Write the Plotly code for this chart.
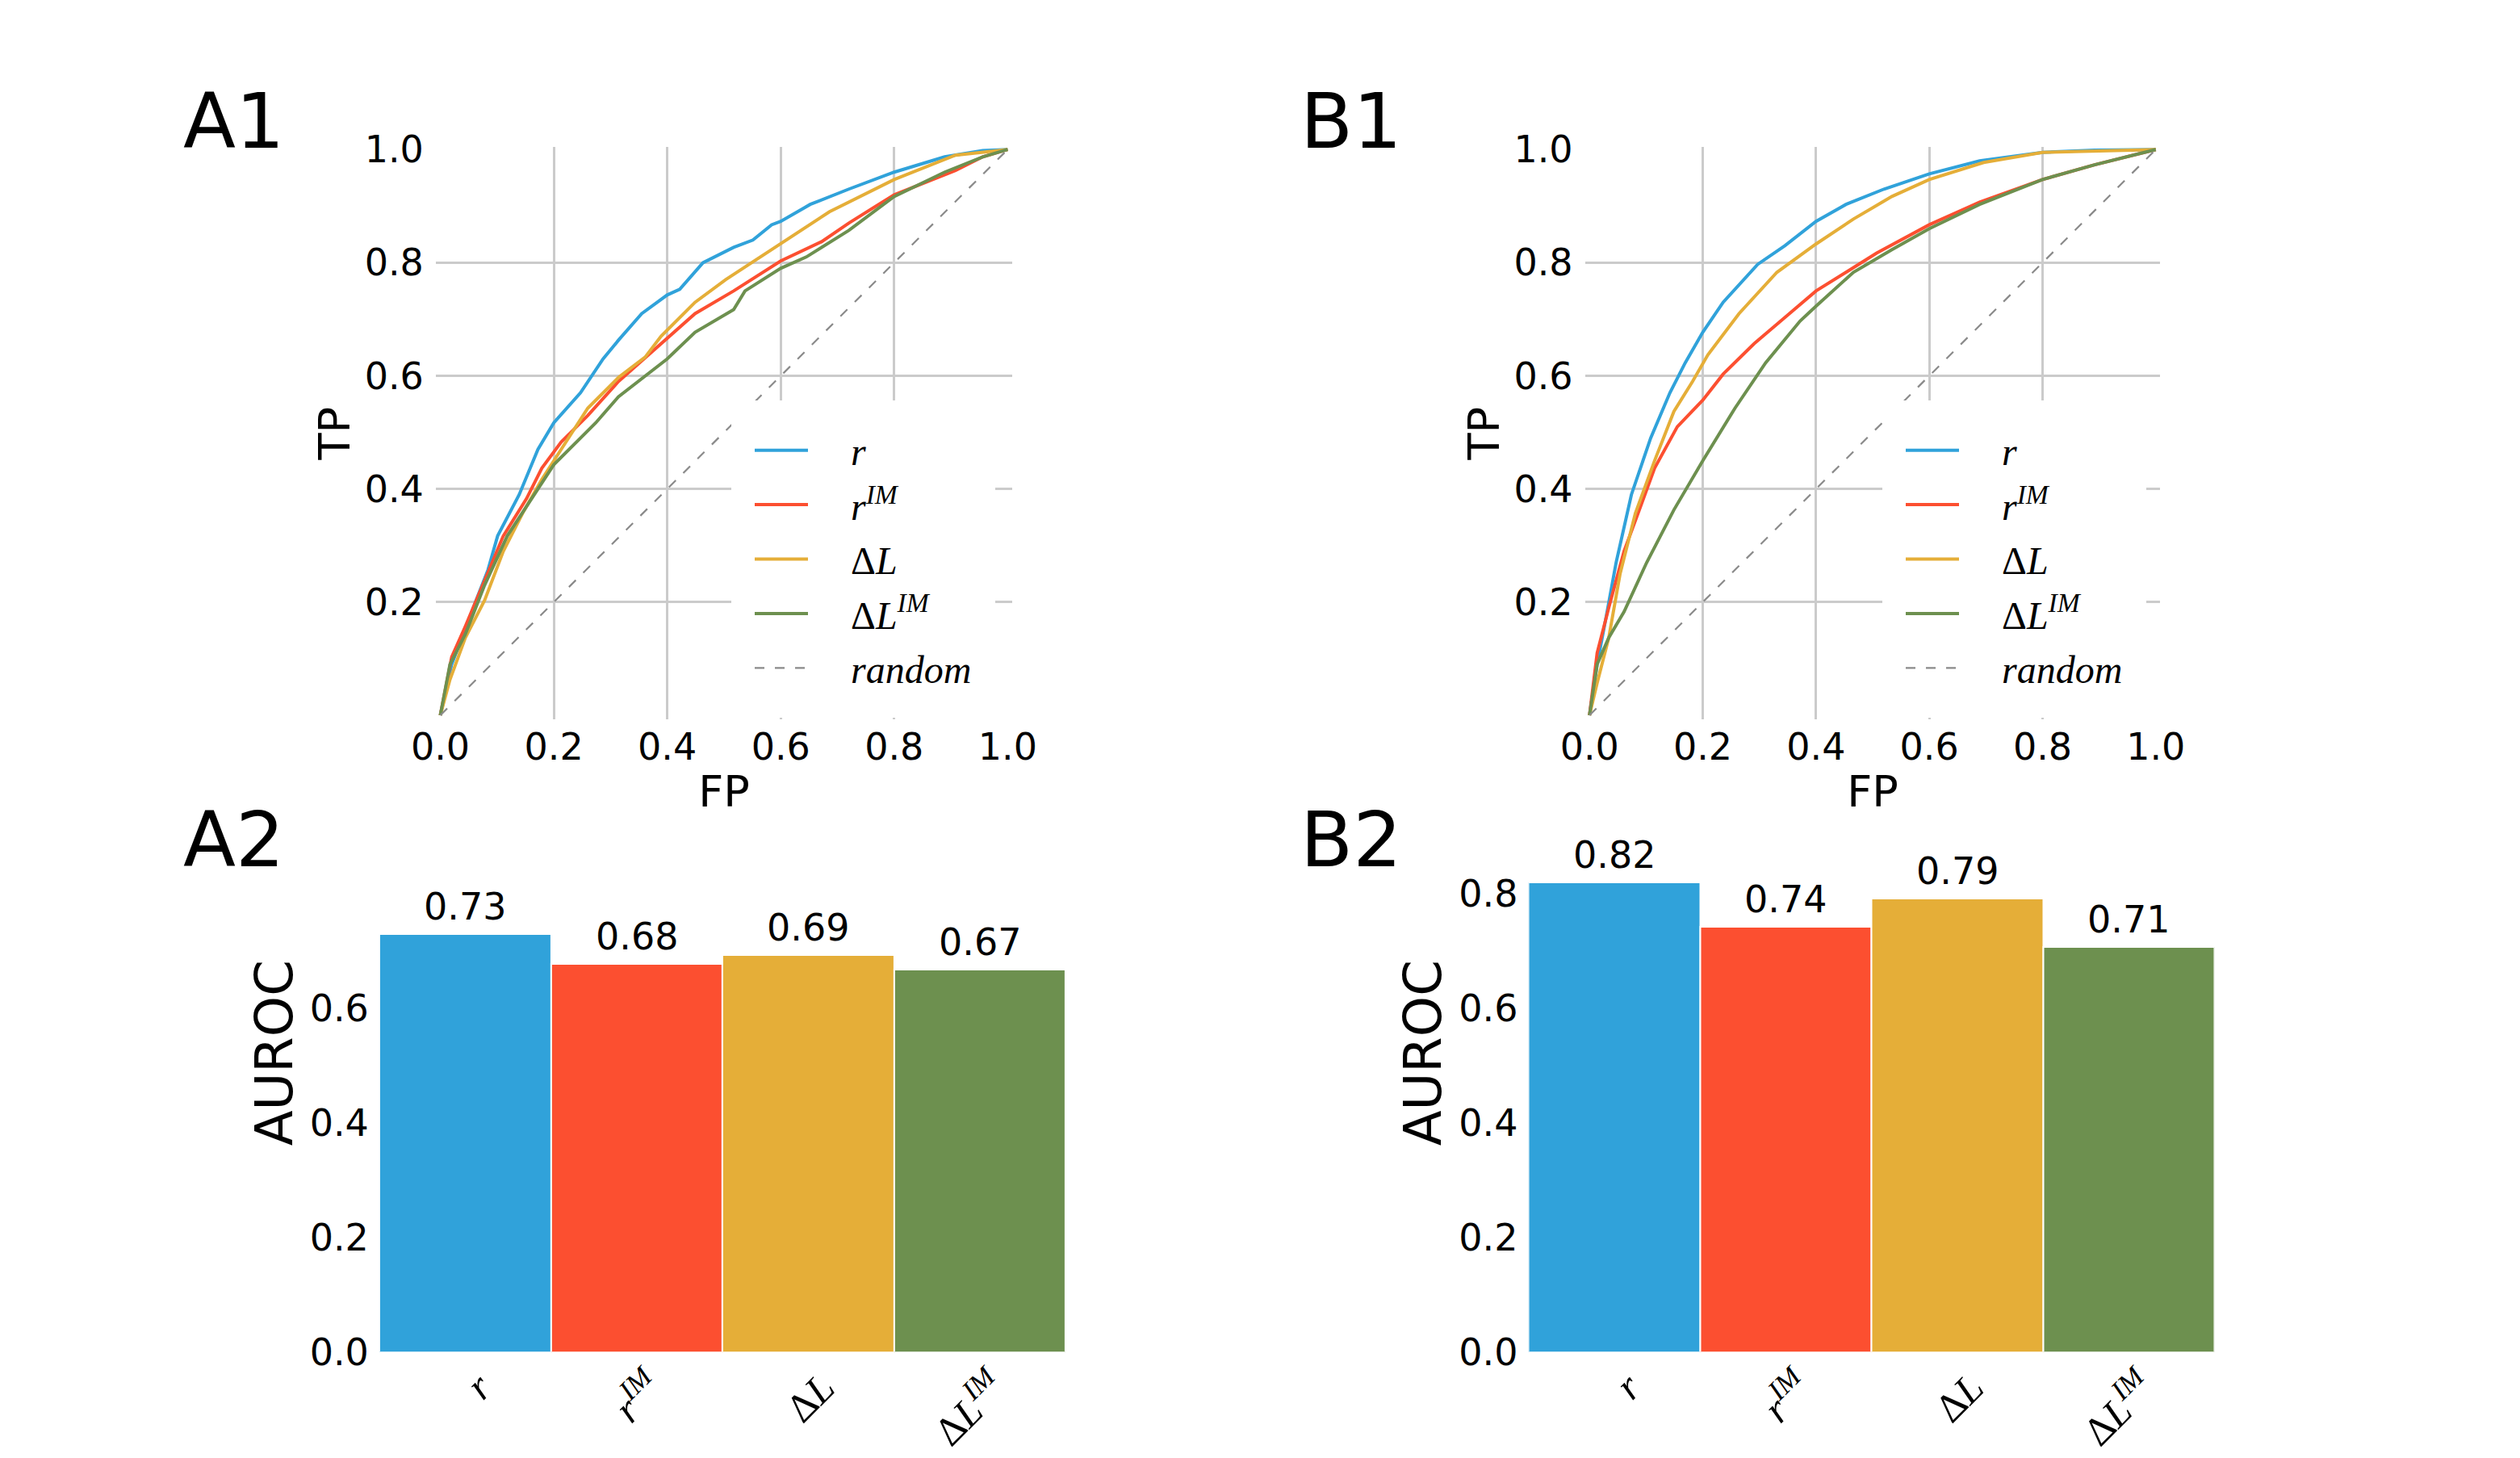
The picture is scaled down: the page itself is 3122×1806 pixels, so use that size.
import plotly.graph_objects as go

W, H = 3122, 1806

# ---------------- data ----------------
# Panel A1 ROC curves
a1_r_fp = [0, 0.02, 0.063, 0.084, 0.101, 0.139, 0.172, 0.2, 0.247, 0.287, 0.314, 0.355, 0.4, 0.422, 0.463,
           0.517, 0.551, 0.584, 0.6, 0.652, 0.72, 0.8, 0.889, 0.956, 1.0]
a1_r_tp = [0, 0.09, 0.203, 0.257, 0.317, 0.39, 0.47, 0.517, 0.57, 0.63, 0.663, 0.71, 0.743, 0.753, 0.8,
           0.827, 0.84, 0.867, 0.873, 0.903, 0.93, 0.96, 0.987, 0.998, 1.0]
a1_rim_fp = [0, 0.02, 0.044, 0.078, 0.111, 0.152, 0.179, 0.213, 0.26, 0.314, 0.382, 0.449, 0.517, 0.6,
             0.672, 0.72, 0.8, 0.908, 0.956, 1.0]
a1_rim_tp = [0, 0.103, 0.157, 0.237, 0.317, 0.383, 0.437, 0.483, 0.53, 0.59, 0.65, 0.71, 0.75, 0.803,
             0.837, 0.87, 0.92, 0.963, 0.987, 1.0]
a1_dl_fp = [0, 0.017, 0.044, 0.078, 0.111, 0.145, 0.179, 0.213, 0.26, 0.314, 0.361, 0.389, 0.449, 0.503,
            0.6, 0.686, 0.8, 0.908, 1.0]
a1_dl_tp = [0, 0.063, 0.137, 0.203, 0.29, 0.357, 0.417, 0.47, 0.543, 0.597, 0.633, 0.67, 0.73, 0.77,
            0.833, 0.89, 0.947, 0.99, 1.0]
a1_dlim_fp = [0, 0.017, 0.044, 0.078, 0.118, 0.152, 0.2, 0.247, 0.274, 0.314, 0.4, 0.449, 0.517, 0.537,
              0.6, 0.645, 0.72, 0.8, 0.889, 0.956, 1.0]
a1_dlim_tp = [0, 0.09, 0.143, 0.23, 0.317, 0.37, 0.443, 0.49, 0.517, 0.563, 0.63, 0.677, 0.717, 0.75,
              0.79, 0.81, 0.857, 0.917, 0.96, 0.987, 1.0]

# Panel B1 ROC curves
b1_r_fp = [0, 0.0135, 0.03, 0.047, 0.074, 0.108, 0.142, 0.169, 0.2, 0.236, 0.297, 0.345, 0.4, 0.453,
           0.52, 0.6, 0.689, 0.8, 0.892, 1.0]
b1_r_tp = [0, 0.09, 0.177, 0.27, 0.39, 0.49, 0.57, 0.623, 0.677, 0.73, 0.797, 0.83, 0.873, 0.903,
           0.93, 0.957, 0.98, 0.995, 0.999, 1.0]
b1_rim_fp = [0, 0.0135, 0.034, 0.061, 0.088, 0.115, 0.155, 0.2, 0.236, 0.291, 0.345, 0.4, 0.453, 0.507,
             0.6, 0.689, 0.8, 0.892, 1.0]
b1_rim_tp = [0, 0.11, 0.19, 0.29, 0.363, 0.437, 0.51, 0.557, 0.603, 0.657, 0.703, 0.75, 0.783, 0.817,
             0.867, 0.907, 0.947, 0.973, 1.0]
b1_dl_fp = [0, 0.0135, 0.034, 0.054, 0.081, 0.115, 0.149, 0.182, 0.209, 0.264, 0.331, 0.4, 0.466, 0.534,
            0.6, 0.696, 0.8, 1.0]
b1_dl_tp = [0, 0.057, 0.137, 0.25, 0.357, 0.45, 0.537, 0.59, 0.637, 0.71, 0.783, 0.833, 0.877, 0.917,
            0.947, 0.977, 0.995, 1.0]
b1_dlim_fp = [0, 0.0135, 0.034, 0.061, 0.101, 0.149, 0.2, 0.257, 0.311, 0.372, 0.4, 0.466, 0.534, 0.6,
              0.689, 0.8, 0.892, 1.0]
b1_dlim_tp = [0, 0.09, 0.137, 0.183, 0.27, 0.363, 0.45, 0.543, 0.623, 0.697, 0.723, 0.783, 0.823, 0.86,
              0.903, 0.947, 0.973, 1.0]

random_fp = [0, 1]
random_tp = [0, 1]

# Bars (AUROC)
bar_keys = ["r", "rIM", "dL", "dLIM"]
bar_labels = ["<i>r</i>", "<i>r</i><sup><i>IM</i></sup>", "Δ<i>L</i>", "Δ<i>L</i><sup><i>IM</i></sup>"]
legend_labels = ["&nbsp;&nbsp;&nbsp;&nbsp;" + s for s in bar_labels]
random_label = "&nbsp;&nbsp;&nbsp;&nbsp;<i>random</i>"
auroc_a = [0.729, 0.677, 0.692, 0.667]
auroc_b = [0.819, 0.741, 0.791, 0.707]

colors = ["#30a2da", "#fc4f30", "#e5ae38", "#6d904f"]
roc_ticks = [0.0, 0.2, 0.4, 0.6, 0.8, 1.0]
grid_ticks = [0.2, 0.4, 0.6, 0.8]

# ---------------- helpers for layout (pixel -> paper) ----------------
def fx(p):
    return p / W

def fy(p):
    return 1 - p / H

SANS = "DejaVu Sans"
SERIF = "Liberation Serif"
GRID = "#cbcbcb"

fig = go.Figure()

roc_sets = [
    ("x", "y", "legend", [(a1_r_fp, a1_r_tp), (a1_rim_fp, a1_rim_tp), (a1_dl_fp, a1_dl_tp), (a1_dlim_fp, a1_dlim_tp)]),
    ("x2", "y2", "legend2", [(b1_r_fp, b1_r_tp), (b1_rim_fp, b1_rim_tp), (b1_dl_fp, b1_dl_tp), (b1_dlim_fp, b1_dlim_tp)]),
]
for xa, ya, leg, curves in roc_sets:
    for i, (fp, tp) in enumerate(curves):
        fig.add_trace(go.Scatter(
            x=fp, y=tp, mode="lines", name=legend_labels[i], xaxis=xa, yaxis=ya,
            line=dict(color=colors[i], width=4), legend=leg, legendgroup=leg + str(i),
            hoverinfo="skip"))
    fig.add_trace(go.Scatter(
        x=random_fp, y=random_tp, mode="lines", name=random_label, xaxis=xa, yaxis=ya,
        line=dict(color="#8a8a8a", width=2.2, dash="12px,13px"), legend=leg, legendgroup=leg + "rand",
        hoverinfo="skip"))

for xa, ya, vals in [("x3", "y3", auroc_a), ("x4", "y4", auroc_b)]:
    fig.add_trace(go.Bar(
        x=bar_keys, y=vals, xaxis=xa, yaxis=ya, showlegend=False,
        marker=dict(color=colors, line=dict(color="white", width=2)), hoverinfo="skip"))

# ---------------- axes ----------------
roc_x_common = dict(range=[-0.008, 1.008], tickvals=roc_ticks, ticktext=["%.1f" % v for v in roc_ticks],
                    showgrid=False, zeroline=False, showline=False, ticks="", automargin=False,
                    minor=dict(tickvals=grid_ticks, showgrid=True, gridcolor=GRID, gridwidth=2.5, ticks=""),
                    tickfont=dict(family=SANS, size=46, color="black"), ticklabelstandoff=3,
                    title=dict(text="FP", font=dict(family=SANS, size=54, color="black"), standoff=10))
roc_y_common = dict(range=[-0.007, 1.004], tickvals=roc_ticks[1:], ticktext=["%.1f" % v for v in roc_ticks[1:]],
                    showgrid=False, zeroline=False, showline=False, ticks="", automargin=False,
                    minor=dict(tickvals=grid_ticks, showgrid=True, gridcolor=GRID, gridwidth=2.5, ticks=""),
                    tickfont=dict(family=SANS, size=46, color="black"), ticklabelstandoff=14,
                    title=dict(text="TP", font=dict(family=SANS, size=54, color="black"), standoff=0))

roc_y_dom = [fy(890.9), fy(182.4)]
bar_y_dom = [fy(1674.5), fy(934.0)]
bar_range = [0, (1674.5 - 934.0) / 710.0]

bar_x_common = dict(range=[-0.5, 3.5], tickvals=bar_keys, ticktext=bar_labels, tickangle=-45,
                    ticklabelstandoff=4, ticklabelshift=18,
                    tickfont=dict(family=SERIF, size=50, color="black"),
                    showgrid=False, zeroline=False, showline=False, ticks="", type="category", automargin=False)
def bar_y(top_tick):
    ticks = [0.0, 0.2, 0.4, 0.6, 0.8][:top_tick + 1]
    return dict(range=bar_range, domain=bar_y_dom, tickvals=ticks, ticktext=["%.1f" % v for v in ticks],
                showgrid=False, zeroline=False, showline=False, ticks="", automargin=False,
                tickfont=dict(family=SANS, size=46, color="black"), ticklabelstandoff=12,
                title=dict(text="AUROC", font=dict(family=SANS, size=64, color="black"), standoff=0))

fig.update_layout(
    width=W, height=H, margin=dict(l=0, r=0, t=0, b=0, autoexpand=False),
    paper_bgcolor="white", plot_bgcolor="white",
    font=dict(family=SANS, color="black"),
    bargap=0,
    xaxis=dict(domain=[fx(539.9), fx(1254.0)], anchor="y", **roc_x_common),
    yaxis=dict(domain=roc_y_dom, anchor="x", **roc_y_common),
    xaxis2=dict(domain=[fx(1963.6), fx(2676.4)], anchor="y2", **roc_x_common),
    yaxis2=dict(domain=roc_y_dom, anchor="x2", **roc_y_common),
    xaxis3=dict(domain=[fx(469.9), fx(1320.1)], anchor="y3", **bar_x_common),
    yaxis3=dict(anchor="x3", **bar_y(3)),
    xaxis4=dict(domain=[fx(1893.5), fx(2743.6)], anchor="y4", **bar_x_common),
    yaxis4=dict(anchor="x4", **bar_y(4)),
)

leg_common = dict(bgcolor="white", bordercolor="white", borderwidth=24, traceorder="grouped",
                  tracegroupgap=2, itemwidth=66, yanchor="top", xanchor="left",
                  font=dict(family=SERIF, size=48, color="black"))
fig.update_layout(
    legend=dict(x=fx(937 - 31), y=fy(496), **leg_common),
    legend2=dict(x=fx(2363 - 31), y=fy(496), **leg_common),
)

# ---------------- annotations ----------------
ann = []
for txt, x, yc in [("A1", 225, 150), ("B1", 1609, 150), ("A2", 225, 1040), ("B2", 1609, 1040)]:
    ann.append(dict(text=txt, x=fx(x), y=fy(yc), xref="paper", yref="paper", xanchor="left",
                    yanchor="middle", showarrow=False, font=dict(family=SANS, size=95, color="black")))

for xa, ya, vals in [("x3", "y3", auroc_a), ("x4", "y4", auroc_b)]:
    for k, v in zip(bar_keys, vals):
        ann.append(dict(text="%.2f" % v, x=k, y=v, xref=xa, yref=ya, xanchor="center", yanchor="middle",
                        yshift=34, showarrow=False, font=dict(family=SANS, size=46, color="black")))

fig.update_layout(annotations=ann)

fig.write_html("out.html")
